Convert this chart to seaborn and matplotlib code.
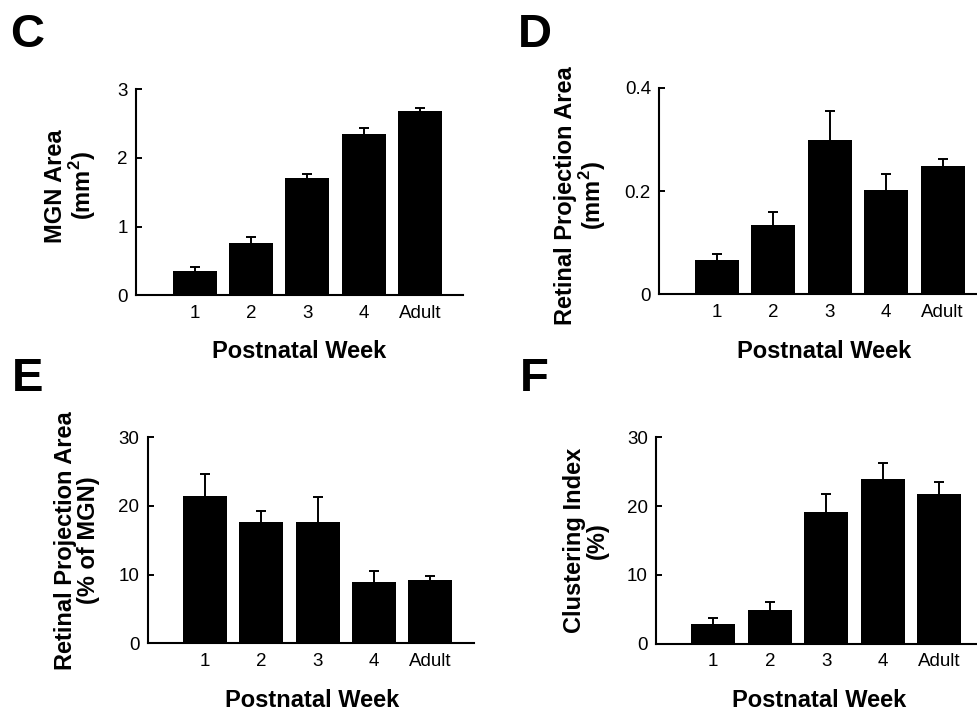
import numpy as np
import pandas as pd
import matplotlib
matplotlib.use("Agg")
import matplotlib.pyplot as plt
import seaborn as sns

# ==============================
# Data
# ==============================
weeks = ["1", "2", "3", "4", "Adult"]

mgn_area = [0.35, 0.76, 1.71, 2.35, 2.68]
mgn_err = [0.06, 0.09, 0.05, 0.08, 0.045]

proj_area = [0.067, 0.134, 0.300, 0.202, 0.248]
proj_err = [0.011, 0.025, 0.055, 0.032, 0.014]

proj_pct = [21.4, 17.7, 17.7, 8.9, 9.2]
pct_err = [3.2, 1.5, 3.6, 1.7, 0.65]

cluster_idx = [2.9, 4.85, 19.1, 23.9, 21.8]
cluster_err = [0.87, 1.26, 2.7, 2.4, 1.74]

# ==============================
# Style
# ==============================
sns.set_style("ticks")
plt.rcParams["font.family"] = ["Liberation Sans", "DejaVu Sans"]
plt.rcParams["mathtext.fontset"] = "custom"
plt.rcParams["mathtext.rm"] = "Liberation Sans:bold"
plt.rcParams["mathtext.bf"] = "Liberation Sans:bold"
for key in ["text.color", "axes.labelcolor", "xtick.color", "ytick.color", "axes.edgecolor"]:
    plt.rcParams[key] = "black"

fig = plt.figure(figsize=(9.77, 7.11), dpi=100)

panels = [
    # letter, values, errors, ylabel, yticks, ticklabels, rect, xlim, ylabel coords, xlabel coords, letter pos
    ("C", mgn_area, mgn_err, "MGN Area\n(mm$^{2}$)", [0, 1, 2, 3], ["0", "1", "2", "3"],
     [0.1392, 0.5847, 0.3344, 0.2897], (-1.04, 4.76), (-0.200, 0.53), (0.5, -0.306), (10, 47)),
    ("D", proj_area, proj_err, "Retinal Projection Area\n(mm$^{2}$)", [0, 0.2, 0.4], ["0", "0.2", "0.4"],
     [0.6748, 0.5861, 0.3252, 0.2902], (-1.02, 4.61), (-0.245, 0.48), (0.518, -0.310), (518, 47)),
    ("E", proj_pct, pct_err, "Retinal Projection Area\n(% of MGN)", [0, 10, 20, 30], ["0", "10", "20", "30"],
     [0.1512, 0.0952, 0.3340, 0.2897], (-1.02, 4.78), (-0.218, 0.50), (0.505, -0.308), (12, 391)),
    ("F", cluster_idx, cluster_err, "Clustering Index\n(%)", [0, 10, 20, 30], ["0", "10", "20", "30"],
     [0.6717, 0.0947, 0.3283, 0.2903], (-1.01, 4.67), (-0.219, 0.50), (0.507, -0.305), (520, 391)),
]

for letter, vals, errs, ylab, yt, ytl, rect, xlim, ylc, xlc, lpos in panels:
    ax = fig.add_axes(rect)
    df = pd.DataFrame({"week": weeks, "value": vals})
    sns.barplot(data=df, x="week", y="value", order=weeks, color="black",
                saturation=1, width=0.78, errorbar=None, ax=ax, linewidth=0)

    # one-sided (upper) error bars
    x = np.arange(len(weeks))
    eb = ax.errorbar(x, vals, yerr=[np.zeros(len(vals)), errs], fmt="none",
                     ecolor="black", elinewidth=1.4, capsize=3.3, capthick=1.4)
    caps = eb[1]
    if len(caps) == 2:
        caps[0].set_visible(False)

    ax.set_xlim(*xlim)
    ax.set_ylim(yt[0], yt[-1])
    ax.set_yticks(yt)
    ax.set_yticklabels(ytl)
    ax.tick_params(axis="y", direction="in", length=4, width=1.4, pad=6, labelsize=13.5)
    ax.tick_params(axis="x", length=0, pad=7, labelsize=13.5)

    for side in ["top", "right"]:
        ax.spines[side].set_visible(False)
    for side in ["left", "bottom"]:
        ax.spines[side].set_linewidth(1.5)
        ax.spines[side].set_color("black")

    ax.set_ylabel(ylab, fontsize=17, fontweight="bold", linespacing=1.0)
    ax.yaxis.label.set_multialignment("center")
    ax.yaxis.label.set_verticalalignment("center")
    ax.yaxis.set_label_coords(*ylc)

    ax.set_xlabel("Postnatal Week", fontsize=17, fontweight="bold")
    ax.xaxis.label.set_verticalalignment("baseline")
    ax.xaxis.set_label_coords(*xlc)

    fig.text(lpos[0] / 977, 1 - lpos[1] / 711, letter, fontsize=34,
             fontweight="bold", ha="left", va="baseline")

fig.savefig("out.png", dpi=100)
